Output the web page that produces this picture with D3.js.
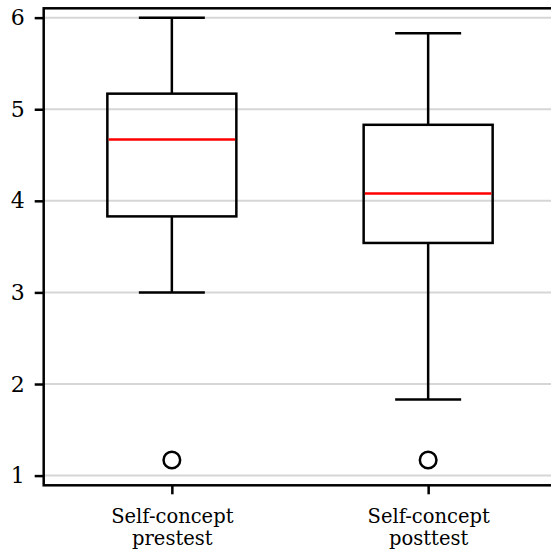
<!DOCTYPE html>
<html>
<head>
<meta charset="utf-8">
<script src="https://cdn.jsdelivr.net/npm/d3@7"></script>
<style>
  html, body { margin: 0; padding: 0; background: #fff; }
  svg { display: block; }
</style>
</head>
<body>
<svg id="chart" width="551" height="551"></svg>
<script>
// ---- data ----
const categories = ["Self-concept\nprestest", "Self-concept\nposttest"];
const whiskerLow  = [3.00, 1.83];
const q1          = [3.83, 3.54];
const median      = [4.67, 4.08];
const q3          = [5.17, 4.83];
const whiskerHigh = [6.00, 5.83];
const outliers    = [[1.17], [1.17]];
const yTicks      = [1, 2, 3, 4, 5, 6];

(function () {
const svg = d3.select("#chart");
const pl = 43.7, pr = 556.3, pt = 8.3, pb = 485.3;
const sw = 2.5;

const x = d3.scalePoint().domain(categories).range([pl, pr]).padding(0.5);
const y = d3.scaleLinear().domain([0.894, 6.102]).range([pb, pt]);
const boxW = 129, capW = 66;

// gridlines
svg.append("g").selectAll("line").data(yTicks).join("line")
  .attr("x1", pl).attr("x2", pr)
  .attr("y1", d => y(d)).attr("y2", d => y(d))
  .attr("stroke", "#d6d6d6").attr("stroke-width", 2);

// boxes
const data = categories.map((c, i) => ({c, lo: whiskerLow[i], q1: q1[i], med: median[i], q3: q3[i], hi: whiskerHigh[i], out: outliers[i]}));
const g = svg.append("g").selectAll("g").data(data).join("g");
g.append("line").attr("x1", d => x(d.c)).attr("x2", d => x(d.c))
  .attr("y1", d => y(d.q3)).attr("y2", d => y(d.hi)).attr("stroke", "#000").attr("stroke-width", sw);
g.append("line").attr("x1", d => x(d.c)).attr("x2", d => x(d.c))
  .attr("y1", d => y(d.q1)).attr("y2", d => y(d.lo)).attr("stroke", "#000").attr("stroke-width", sw);
g.append("line").attr("x1", d => x(d.c) - capW/2).attr("x2", d => x(d.c) + capW/2)
  .attr("y1", d => y(d.hi)).attr("y2", d => y(d.hi)).attr("stroke", "#000").attr("stroke-width", sw);
g.append("line").attr("x1", d => x(d.c) - capW/2).attr("x2", d => x(d.c) + capW/2)
  .attr("y1", d => y(d.lo)).attr("y2", d => y(d.lo)).attr("stroke", "#000").attr("stroke-width", sw);
g.append("rect").attr("x", d => x(d.c) - boxW/2).attr("width", boxW)
  .attr("y", d => y(d.q3)).attr("height", d => y(d.q1) - y(d.q3))
  .attr("fill", "none").attr("stroke", "#000").attr("stroke-width", sw);
g.append("line").attr("x1", d => x(d.c) - boxW/2 + 1.2).attr("x2", d => x(d.c) + boxW/2 - 1.2)
  .attr("y1", d => y(d.med)).attr("y2", d => y(d.med)).attr("stroke", "#ff0000").attr("stroke-width", sw);
g.each(function(d) {
  d3.select(this).selectAll("circle").data(d.out).join("circle")
    .attr("cx", x(d.c)).attr("cy", v => y(v)).attr("r", 8.3)
    .attr("fill", "none").attr("stroke", "#000").attr("stroke-width", sw);
});

// frame
svg.append("rect").attr("x", pl).attr("y", pt).attr("width", pr - pl).attr("height", pb - pt)
  .attr("fill", "none").attr("stroke", "#000").attr("stroke-width", sw);

// y axis
const yAxis = svg.append("g").attr("transform", `translate(${pl},0)`)
  .call(d3.axisLeft(y).tickValues(yTicks).tickFormat(d3.format("d")).tickSize(9).tickSizeOuter(0).tickPadding(10));
yAxis.select(".domain").remove();
yAxis.selectAll("line").attr("stroke", "#000").attr("stroke-width", sw);
yAxis.selectAll("text").attr("font-family", "'DejaVu Serif', serif").attr("font-size", 22).attr("fill", "#000");

// x axis
const xAxis = svg.append("g").attr("transform", `translate(0,${pb})`)
  .call(d3.axisBottom(x).tickSize(9).tickSizeOuter(0).tickFormat(""));
xAxis.select(".domain").remove();
xAxis.selectAll("line").attr("stroke", "#000").attr("stroke-width", sw);
xAxis.selectAll(".tick").each(function(d) {
  const t = d3.select(this).append("text")
    .attr("text-anchor", "middle").attr("font-family", "'DejaVu Serif', serif")
    .attr("font-size", 19.5).attr("fill", "#000");
  d.split("\n").forEach((s, i) => {
    t.append("tspan").attr("x", 0).attr("y", 37.5 + i * 22.5).text(s);
  });
});
})();
</script>
</body>
</html>
